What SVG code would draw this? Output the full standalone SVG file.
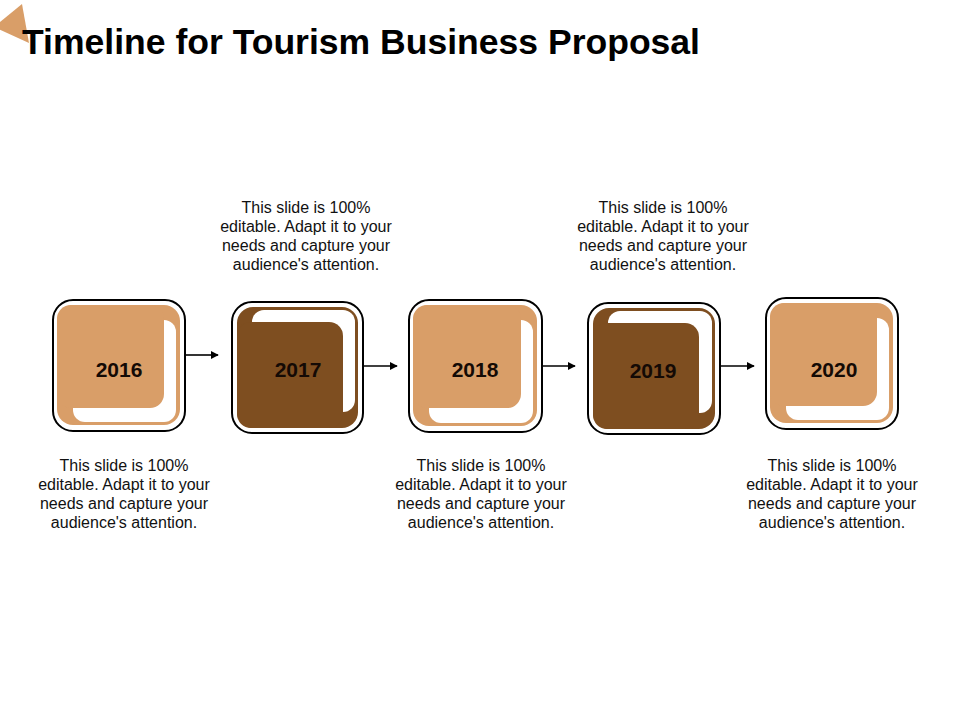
<svg xmlns="http://www.w3.org/2000/svg" width="960" height="720" viewBox="0 0 960 720">
<defs>
<style>
.frame{fill:#fff;stroke:#000;stroke-width:2}
.tan{fill:#D99E68}
.brown{fill:#7E4E20}
.hl{fill:#fff}
.year{font-family:"Liberation Sans",Arial,sans-serif;font-weight:bold;font-size:21px;fill:#140a05;text-anchor:middle}
.desc{font-family:"Liberation Sans",Arial,sans-serif;font-size:16px;fill:#111;text-anchor:middle}
.title{font-family:"Liberation Sans",Arial,sans-serif;font-weight:bold;font-size:35px;fill:#000}
.conn{stroke:#000;stroke-width:1.6;fill:none}
</style>
<marker id="arr" viewBox="0 0 10 10" refX="9" refY="5" markerWidth="5" markerHeight="5" orient="auto" markerUnits="strokeWidth">
<path d="M0,0 L10,5 L0,10 z" fill="#000"/>
</marker>
</defs>
<rect width="960" height="720" fill="#fff"/>
<polygon points="22,4 -6,27 29,43" fill="#D99E68"/>
<text class="title" x="22" y="54" textLength="678" lengthAdjust="spacingAndGlyphs">Timeline for Tourism Business Proposal</text>

<g id="connectors">
<line class="conn" x1="186" y1="355" x2="218" y2="355" marker-end="url(#arr)"/>
<line class="conn" x1="363" y1="366" x2="397" y2="366" marker-end="url(#arr)"/>
<line class="conn" x1="542" y1="366" x2="575" y2="366" marker-end="url(#arr)"/>
<line class="conn" x1="720" y1="366" x2="754" y2="366" marker-end="url(#arr)"/>
</g>

<g id="node-2016" transform="translate(53,300)">
<rect class="frame" x="0" y="0" width="132" height="131" rx="20"/>
<rect class="tan" x="4" y="5" width="123" height="120" rx="16"/>
<rect class="hl" x="20" y="20" width="103" height="102" rx="12"/>
<rect class="tan" x="4" y="5" width="107" height="103" rx="14"/>
<text class="year" x="66" y="77">2016</text>
</g>

<g id="node-2017" transform="translate(232,302)">
<rect class="frame" x="0" y="0" width="131" height="131" rx="20"/>
<rect class="brown" x="5" y="5" width="121" height="121" rx="16"/>
<rect class="hl" x="20" y="8" width="103" height="102" rx="12"/>
<rect class="brown" x="5" y="20" width="106" height="106" rx="14"/>
<text class="year" x="66" y="75">2017</text>
</g>

<g id="node-2018" transform="translate(409,300)">
<rect class="frame" x="0" y="0" width="133" height="132" rx="20"/>
<rect class="tan" x="4" y="5" width="124" height="121" rx="16"/>
<rect class="hl" x="20" y="20" width="104" height="103" rx="12"/>
<rect class="tan" x="4" y="5" width="108" height="103" rx="14"/>
<text class="year" x="66" y="77">2018</text>
</g>

<g id="node-2019" transform="translate(588,303)">
<rect class="frame" x="0" y="0" width="132" height="131" rx="20"/>
<rect class="brown" x="5" y="5" width="122" height="121" rx="16"/>
<rect class="hl" x="20" y="8" width="104" height="102" rx="12"/>
<rect class="brown" x="5" y="20" width="106" height="106" rx="14"/>
<text class="year" x="65" y="75">2019</text>
</g>

<g id="node-2020" transform="translate(766,298)">
<rect class="frame" x="0" y="0" width="132" height="131" rx="20"/>
<rect class="tan" x="4" y="5" width="123" height="120" rx="16"/>
<rect class="hl" x="20" y="20" width="103" height="102" rx="12"/>
<rect class="tan" x="4" y="5" width="107" height="103" rx="14"/>
<text class="year" x="68" y="79">2020</text>
</g>

<g id="text-2016">
<text class="desc" x="124" y="471">This slide is 100%</text>
<text class="desc" x="124" y="490">editable. Adapt it to your</text>
<text class="desc" x="124" y="509">needs and capture your</text>
<text class="desc" x="124" y="528">audience's attention.</text>
</g>
<g id="text-2017">
<text class="desc" x="306" y="213">This slide is 100%</text>
<text class="desc" x="306" y="232">editable. Adapt it to your</text>
<text class="desc" x="306" y="251">needs and capture your</text>
<text class="desc" x="306" y="270">audience's attention.</text>
</g>
<g id="text-2018">
<text class="desc" x="481" y="471">This slide is 100%</text>
<text class="desc" x="481" y="490">editable. Adapt it to your</text>
<text class="desc" x="481" y="509">needs and capture your</text>
<text class="desc" x="481" y="528">audience's attention.</text>
</g>
<g id="text-2019">
<text class="desc" x="663" y="213">This slide is 100%</text>
<text class="desc" x="663" y="232">editable. Adapt it to your</text>
<text class="desc" x="663" y="251">needs and capture your</text>
<text class="desc" x="663" y="270">audience's attention.</text>
</g>
<g id="text-2020">
<text class="desc" x="832" y="471">This slide is 100%</text>
<text class="desc" x="832" y="490">editable. Adapt it to your</text>
<text class="desc" x="832" y="509">needs and capture your</text>
<text class="desc" x="832" y="528">audience's attention.</text>
</g>
</svg>
